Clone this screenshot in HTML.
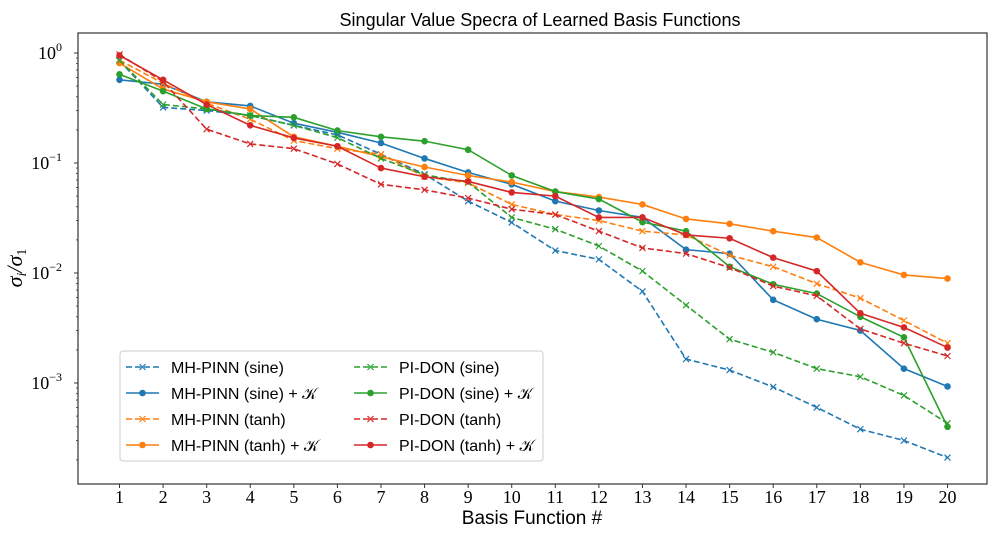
<!DOCTYPE html>
<html><head><meta charset="utf-8"><style>
body{margin:0;background:#fff;}
svg{display:block;}
text{font-family:"Liberation Sans",sans-serif;}
.serif{font-family:"Liberation Serif",serif;}
</style></head><body>
<svg id="chart" width="1000" height="535" xmlns="http://www.w3.org/2000/svg">
<text x="540" y="26" font-size="18" text-anchor="middle">Singular Value Specra of Learned Basis Functions</text>
<g id="grid"></g>
<g id="series"></g>
<rect x="78" y="33" width="909" height="451" fill="none" stroke="#333" stroke-width="1.2"/>
<text x="532" y="524" font-size="19" text-anchor="middle">Basis Function #</text>
<text class="serif" transform="translate(22,268) rotate(-90)" font-size="22" font-style="italic" text-anchor="middle">σ<tspan font-size="14" dy="4">i</tspan><tspan dy="-4">/σ</tspan><tspan font-size="14" dy="4" font-style="normal">1</tspan></text>
<g id="legend"></g>
</svg>
<script>
const categories = [1,2,3,4,5,6,7,8,9,10,11,12,13,14,15,16,17,18,19,20];
const yTicks = [0,-1,-2,-3];
const seriesNames = ["MH-PINN (sine)","MH-PINN (sine) + 𝒦","MH-PINN (tanh)","MH-PINN (tanh) + 𝒦","PI-DON (sine)","PI-DON (sine) + 𝒦","PI-DON (tanh)","PI-DON (tanh) + 𝒦"];
const mhSine = [0.85,0.32,0.30,0.27,0.22,0.18,0.12,0.079,0.045,0.0288,0.016,0.0133,0.0068,0.00165,0.00131,0.00092,0.0006,0.00038,0.0003,0.00021];
const mhSineK = [0.57,0.52,0.36,0.33,0.23,0.19,0.152,0.11,0.082,0.064,0.045,0.037,0.032,0.0163,0.015,0.0057,0.0038,0.003,0.00135,0.00093];
const mhTanh = [0.86,0.53,0.35,0.25,0.16,0.135,0.12,0.075,0.066,0.042,0.034,0.030,0.024,0.0222,0.0145,0.0114,0.008,0.0059,0.0037,0.0023];
const mhTanhK = [0.81,0.47,0.36,0.31,0.173,0.142,0.114,0.092,0.077,0.067,0.055,0.049,0.042,0.031,0.028,0.024,0.021,0.0125,0.0096,0.0089];
const piSine = [0.86,0.34,0.31,0.27,0.22,0.17,0.11,0.078,0.067,0.032,0.025,0.0176,0.0104,0.0051,0.0025,0.0019,0.00135,0.00114,0.00077,0.00043];
const piSineK = [0.64,0.45,0.31,0.27,0.26,0.197,0.173,0.158,0.132,0.077,0.055,0.047,0.029,0.024,0.0114,0.0079,0.0065,0.004,0.0026,0.0004];
const piTanh = [0.97,0.55,0.203,0.149,0.135,0.098,0.064,0.057,0.048,0.038,0.034,0.024,0.0169,0.015,0.0112,0.0076,0.0062,0.0031,0.0023,0.00176];
const piTanhK = [0.95,0.57,0.34,0.22,0.169,0.142,0.09,0.075,0.068,0.054,0.05,0.032,0.032,0.0222,0.0207,0.0138,0.0104,0.0043,0.0032,0.0021];

const NS="http://www.w3.org/2000/svg";
function xs(i){return 119.5+(i-1)*43.58;}
function ys(v){return 53-110*Math.log10(v);}
function mk(tag,attrs,parent){const e=document.createElementNS(NS,tag);for(const k in attrs)e.setAttribute(k,attrs[k]);parent.appendChild(e);return e;}
const grid=document.getElementById('grid');
categories.forEach(c=>{
  const t=mk('line',{x1:xs(c),x2:xs(c),y1:484,y2:488,stroke:'#333','stroke-width':1},grid);
  
  
  const l=mk('text',{x:xs(c),y:503,'font-size':18,'text-anchor':'middle',class:'serif'},grid);
  l.textContent=c;
  
  
});
yTicks.forEach(p=>{
  const y=ys(Math.pow(10,p));
  const t=mk('line',{x1:74,x2:78,y1:y,y2:y,stroke:'#333','stroke-width':1},grid);
  
  
  const l=mk('text',{x:62,y:y+6,'font-size':18,'text-anchor':'end',class:'serif'},grid);
  l.innerHTML='10<tspan font-size="12" dy="-8">'+(p===0?'0':'−'+(-p))+'</tspan>';
  
  
});
for(let p=-4;p<=0;p++){for(let m=2;m<=9;m++){const v=m*Math.pow(10,p);const y=ys(v);if(y<33||y>484)continue;
  const t=mk('line',{x1:76,x2:78,y1:y,y2:y,stroke:'#333','stroke-width':0.8},grid);
  
  }}

const datasets=[mhSine,mhSineK,mhTanh,mhTanhK,piSine,piSineK,piTanh,piTanhK];
const colors=['#1f77b4','#1f77b4','#ff7f0e','#ff7f0e','#2ca02c','#2ca02c','#d62728','#d62728'];
const dashed=[true,false,true,false,true,false,true,false];
const sg=document.getElementById('series');
datasets.forEach((d,si)=>{
  const g=mk('g',{},sg);
  
  
  const pts=d.map((v,i)=>xs(categories[i])+','+ys(v)).join(' ');
  const pl=mk('polyline',{points:pts,fill:'none',stroke:colors[si],'stroke-width':1.6,'stroke-dasharray':dashed[si]?'6,3':'none'},g);
  
  
  d.forEach((v,i)=>{
    const x=xs(categories[i]),y=ys(v);
    let m;
    if(dashed[si]){m=mk('path',{d:`M${x-3},${y-3}L${x+3},${y+3}M${x-3},${y+3}L${x+3},${y-3}`,stroke:colors[si],'stroke-width':1.2},g);}
    else{m=mk('circle',{cx:x,cy:y,r:3.3,fill:colors[si]},g);}
    
    
  });
});
const lg=document.getElementById('legend');
const box=mk('rect',{x:120,y:351,width:423,height:110,rx:3,fill:'#fff','fill-opacity':0.85,stroke:'#ccc'},lg);


const order=[0,1,2,3,4,5,6,7];
order.forEach((si,k)=>{
  const col=k<4?0:1,row=k%4;
  const x0=col?354:126,y=367+row*26;
  const g=mk('g',{},lg);
  
  
  mk('line',{x1:x0,x2:x0+33,y1:y,y2:y,stroke:colors[si],'stroke-width':1.6,'stroke-dasharray':dashed[si]?'6,3':'none'},g);
  const cx=x0+16.5;
  if(dashed[si])mk('path',{d:`M${cx-3},${y-3}L${cx+3},${y+3}M${cx-3},${y+3}L${cx+3},${y-3}`,stroke:colors[si],'stroke-width':1.2},g);
  else mk('circle',{cx:cx,cy:y,r:3.3,fill:colors[si]},g);
  const t=mk('text',{x:x0+45,y:y+6,'font-size':16},g);
  t.textContent=seriesNames[si];
});
</script>
</body></html>
